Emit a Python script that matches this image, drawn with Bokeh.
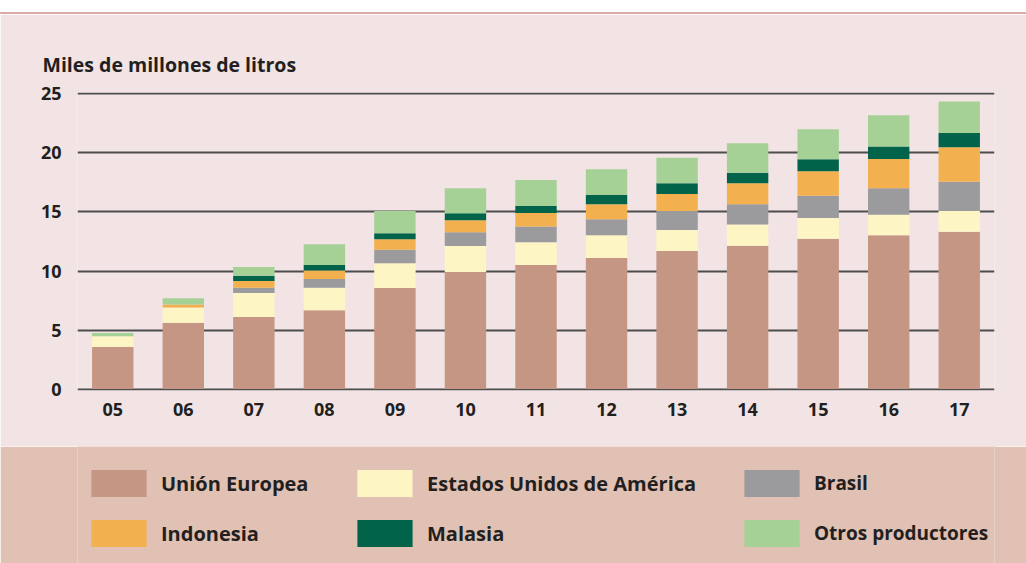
from bokeh.plotting import figure
from bokeh.models import (ColumnDataSource, FixedTicker, Range1d, FactorRange, Legend,
                          LegendItem, Title, Spacer)
from bokeh.layouts import column
from bokeh.embed import file_html
from bokeh.resources import INLINE

years = ["05", "06", "07", "08", "09", "10", "11", "12", "13", "14", "15", "16", "17"]
union_europea = [3.57, 5.62, 6.10, 6.67, 8.56, 9.92, 10.51, 11.10, 11.69, 12.15, 12.74, 13.02, 13.33]
estados_unidos = [0.90, 1.29, 2.03, 1.91, 2.09, 2.20, 1.92, 1.92, 1.78, 1.78, 1.75, 1.75, 1.75]
brasil = [0.0, 0.0, 0.45, 0.74, 1.15, 1.16, 1.33, 1.36, 1.61, 1.72, 1.89, 2.23, 2.49]
indonesia = [0.0, 0.25, 0.57, 0.73, 0.88, 1.01, 1.16, 1.27, 1.45, 1.78, 2.07, 2.49, 2.91]
malasia = [0.0, 0.0, 0.45, 0.45, 0.51, 0.61, 0.59, 0.79, 0.90, 0.90, 1.01, 1.05, 1.21]
otros = [0.28, 0.54, 0.74, 1.76, 1.89, 2.10, 2.20, 2.18, 2.17, 2.49, 2.54, 2.65, 2.66]

series_keys = ["ue", "eua", "br", "ind", "mal", "otr"]
series_labels = ["Unión Europea", "Estados Unidos de América", "Brasil",
                 "Indonesia", "Malasia", "Otros productores"]
colors = ["#c59683", "#fdf6c4", "#9b9b9d", "#f3b04f", "#00634a", "#a6d196"]
y_ticks = [0, 5, 10, 15, 20, 25]

PINK = "#f2e4e4"
TAN = "#e0c1b3"
TXT = "#231f20"
FONT = "Open Sans"
W = 1026

source = ColumnDataSource(data=dict(year=years, ue=union_europea, eua=estados_unidos,
                                    br=brasil, ind=indonesia, mal=malasia, otr=otros))

p = figure(width=W, height=432, x_range=FactorRange(*years), y_range=Range1d(-0.12, 25.12),
           toolbar_location=None, output_backend="svg",
           min_border_left=77, min_border_right=32, min_border_top=78, min_border_bottom=56,
           background_fill_color=PINK, border_fill_color=PINK, outline_line_color=None)

p.vbar_stack(series_keys, x="year", width=0.587, source=source,
             fill_color=colors, line_color=None)

t = Title(text="Miles de millones de litros", align="left", offset=-35, standoff=29,
          text_font=FONT, text_font_style="bold", text_font_size="19.5px", text_color=TXT)
p.add_layout(t, "above")

p.yaxis.ticker = FixedTicker(ticks=y_ticks)
p.ygrid.ticker = FixedTicker(ticks=y_ticks)
p.ygrid.grid_line_color = "#4d4d4d"
p.ygrid.grid_line_width = 2
p.xgrid.grid_line_color = None
for ax in (p.xaxis[0], p.yaxis[0]):
    ax.axis_line_color = None
    ax.major_tick_line_color = None
    ax.minor_tick_line_color = None
    ax.major_label_text_font = FONT
    ax.major_label_text_font_style = "bold"
    ax.major_label_text_font_size = "18px"
    ax.major_label_text_color = TXT
p.yaxis.major_label_standoff = 10
p.xaxis.major_label_standoff = 6

# legend panel
p2 = figure(width=W, height=117, x_range=Range1d(0, 1), y_range=Range1d(0, 1),
            toolbar_location=None, output_backend="svg", min_border=0,
            x_axis_location=None, y_axis_location=None,
            background_fill_color=TAN, border_fill_color=TAN, outline_line_color=None)
p2.grid.visible = False

items = []
for lab, col in zip(series_labels, colors):
    r = p2.vbar(x=[5], top=[6], bottom=[5], width=0.1, fill_color=col, line_color=None)
    items.append(LegendItem(label=lab, renderers=[r]))

x_positions = [7, 273, 660]
font_sizes = ["20px", "20px", "19px"]
for i, xpos in enumerate(x_positions):
    leg = Legend(items=[items[i], items[i + 3]], location=(xpos, 13), orientation="vertical",
                 glyph_width=69, glyph_height=34, label_standoff=8, spacing=16,
                 padding=0, margin=0, border_line_color=None, background_fill_alpha=0,
                 label_text_font=FONT, label_text_font_style="bold",
                 label_text_font_size=font_sizes[i], label_text_color=TXT)
    p2.add_layout(leg, "center")

top_white = Spacer(width=W, height=12)
top_line = Spacer(width=W, height=2, styles={"background-color": "#d9acaa"})

layout = column(top_white, top_line, p, p2, spacing=0)

open("out.html", "w").write(file_html(layout, INLINE))
